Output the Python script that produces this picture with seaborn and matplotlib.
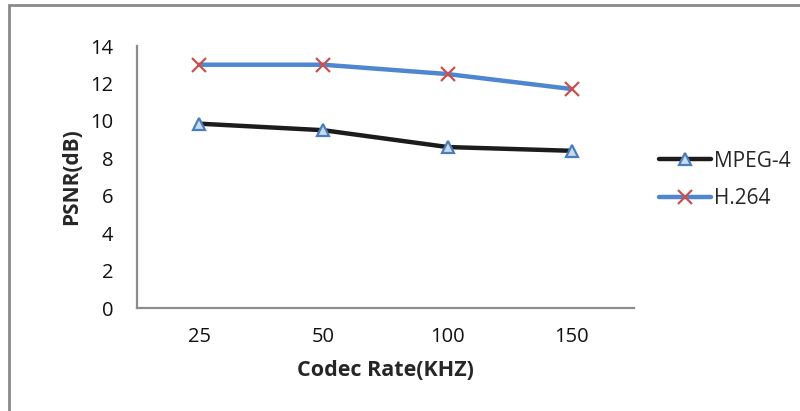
import matplotlib
matplotlib.use("Agg")
import matplotlib.pyplot as plt
import seaborn as sns
import pandas as pd
from matplotlib.patches import Rectangle

# Codec rates (kHz) and PSNR results for each encoder
rates = ["25", "50", "100", "150"]
mpeg4 = [9.85, 9.5, 8.6, 8.4]
h264 = [13.0, 13.0, 12.5, 11.7]
y_ticks = [0, 2, 4, 6, 8, 10, 12, 14]

df = pd.concat([
    pd.DataFrame({"rate": rates, "psnr": mpeg4, "codec": "MPEG-4"}),
    pd.DataFrame({"rate": rates, "psnr": h264, "codec": "H.264"}),
], ignore_index=True)

sns.set_theme(style="white")
plt.rcParams["font.family"] = ["Open Sans", "DejaVu Sans"]

fig = plt.figure(figsize=(8.0, 4.11), dpi=100)
ax = fig.add_axes([137 / 800, 1 - 308 / 411, (634 - 137) / 800, (308 - 46) / 411])

palette = {"MPEG-4": "#1c1c1c", "H.264": "#4f86d0"}
sns.lineplot(data=df, x="rate", y="psnr", hue="codec", palette=palette,
             linewidth=3.2, ax=ax, legend=False, sort=False)

# Series markers
m1 = df[df.codec == "MPEG-4"]
m2 = df[df.codec == "H.264"]
ax.plot(m1["rate"], m1["psnr"], linestyle="none", marker="^", markersize=9,
        markerfacecolor="#c9daf0", markeredgecolor="#4a7ebb", markeredgewidth=1.6)
ax.plot(m2["rate"], m2["psnr"], linestyle="none", marker="x", markersize=10,
        markeredgecolor="#c9504d", markeredgewidth=1.6)

ax.set_xlim(-0.5, 3.5)
ax.set_ylim(0, 14)
ax.set_yticks(y_ticks)
ax.tick_params(axis="both", length=0, labelsize=14.5, colors="#111111")
ax.tick_params(axis="x", pad=14)
ax.tick_params(axis="y", pad=17)
for s in ["top", "right"]:
    ax.spines[s].set_visible(False)
for s in ["left", "bottom"]:
    ax.spines[s].set_color("#8c8c8c")
    ax.spines[s].set_linewidth(1.6)

ax.set_xlabel("Codec Rate(KHZ)", fontsize=15.5, fontweight="bold", labelpad=9)
ax.set_ylabel("PSNR(dB)", fontsize=15, fontweight="bold", labelpad=6)

# Legend handles combine the line and its marker
h_mpeg = plt.Line2D([], [], color="#1c1c1c", linewidth=3.2, marker="^", markersize=9,
                    markerfacecolor="#c9daf0", markeredgecolor="#4a7ebb", markeredgewidth=1.6)
h_h264 = plt.Line2D([], [], color="#4f86d0", linewidth=3.2, marker="x", markersize=10,
                    markeredgecolor="#c9504d", markeredgewidth=1.6)
fig.legend([h_mpeg, h_h264], ["MPEG-4", "H.264"], loc="center left",
           bbox_to_anchor=(640 / 800, 1 - 180 / 411), frameon=False, fontsize=15,
           handlelength=2.5, handletextpad=0.15, labelspacing=0.8)

# Outer chart frame
fig.patches.append(Rectangle((9 / 800, -0.05), 1.0, 1 - 5 / 411 + 0.05,
                             transform=fig.transFigure, fill=False,
                             edgecolor="#8a8a8a", linewidth=2))

fig.savefig("out.png", dpi=100)
